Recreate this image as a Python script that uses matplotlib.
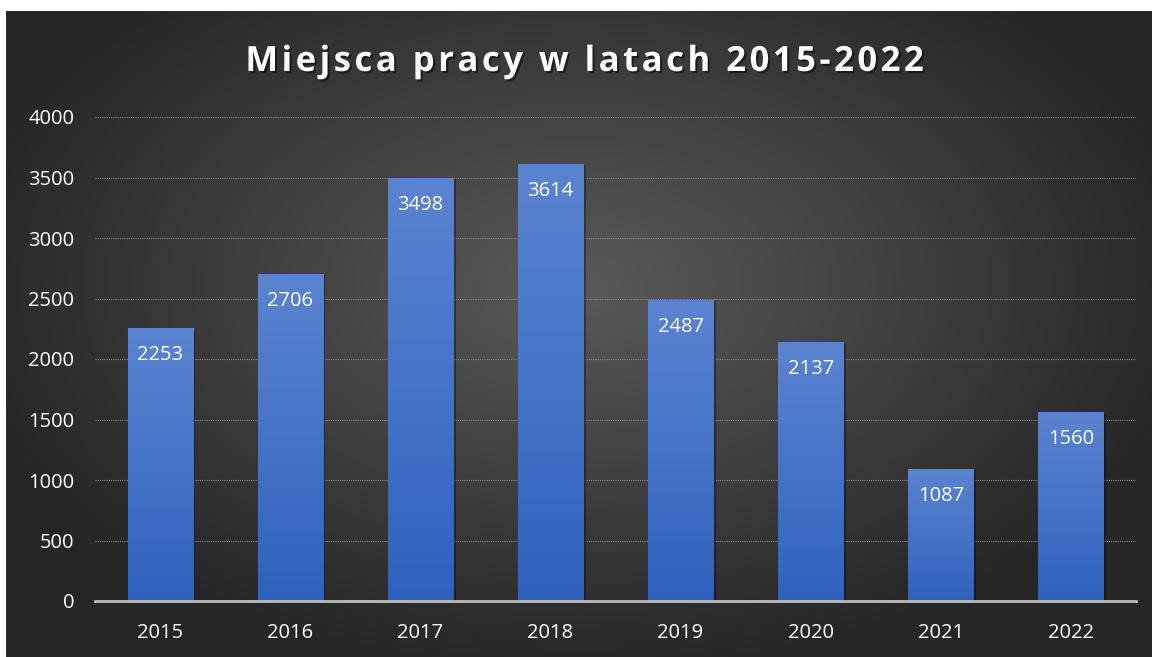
import numpy as np
import matplotlib.pyplot as plt
import matplotlib.patheffects as pe

years = ['2015', '2016', '2017', '2018', '2019', '2020', '2021', '2022']
jobs = [2253, 2706, 3498, 3614, 2487, 2137, 1087, 1560]
y_ticks = [0, 500, 1000, 1500, 2000, 2500, 3000, 3500, 4000]

plt.rcParams['font.family'] = ['Open Sans', 'DejaVu Sans']

fig = plt.figure(figsize=(11.52, 6.57), dpi=100)
fig.patch.set_facecolor('white')

# dark radial background (white strip on left/top)
bg = fig.add_axes([6 / 1152, 0, 1 - 6 / 1152, 1 - 11 / 657])
yy, xx = np.mgrid[-1:1:300j, -1:1:500j]
r = np.sqrt((xx / 1.1) ** 2 + ((yy + 0.15) / 1.2) ** 2)
r = np.clip(r, 0, 1)
light = 0.35 - 0.20 * r
bg.imshow(np.dstack([light, light, light]), aspect='auto', extent=[0, 1, 0, 1])
bg.set_axis_off()

ax = fig.add_axes([95 / 1152, 1 - 601 / 657, (1136 - 95) / 1152, (601 - 117) / 657])
ax.patch.set_alpha(0)
x = np.arange(len(years))
bars = ax.bar(x, jobs, width=0.5, color='#4472c4', zorder=3)

grad = np.linspace(0, 1, 256).reshape(-1, 1)
top = np.array([0x5b, 0x84, 0xd0]) / 255
bot = np.array([0x2f, 0x62, 0xbd]) / 255
img = top * grad[..., None] + bot * (1 - grad[..., None])
for b in bars:
    b.set_path_effects([pe.SimplePatchShadow(offset=(2, -1), shadow_rgbFace='black', alpha=0.35), pe.Normal()])
    im = ax.imshow(img, aspect='auto', origin='lower',
                   extent=[b.get_x(), b.get_x() + b.get_width(), 0, b.get_height()], zorder=4)
    im.set_clip_path(b)

for xi, v in zip(x, jobs):
    ax.text(xi, v - 140, str(v), ha='center', va='top', color='white', fontsize=14.5, zorder=5)

ax.set_xlim(-0.5, len(years) - 0.5)
ax.set_ylim(0, 4000)
ax.set_yticks(y_ticks)
ax.set_xticks(x)
ax.set_xticklabels(years)
ax.tick_params(axis='both', length=0, colors='white', labelsize=14.5)
ax.tick_params(axis='y', pad=15)
ax.tick_params(axis='x', pad=16)
ax.grid(axis='y', color='#8a8a8a', linestyle=(0, (1, 1)), linewidth=0.8, zorder=1)
for s in ['top', 'right', 'left']:
    ax.spines[s].set_visible(False)
ax.spines['bottom'].set_color('#bdbdbd')
ax.spines['bottom'].set_linewidth(2)
ax.spines['bottom'].set_zorder(6)

title = 'Miejsca pracy w latach 2015-2022'
fig.text(585 / 1152, 1 - 62 / 657, '\u200a'.join(title),
         ha='center', va='center', color='white', fontsize=25, fontweight='bold',
         path_effects=[pe.withSimplePatchShadow(offset=(1.5, -1.5), shadow_rgbFace='black', alpha=0.5)])

fig.savefig('out.png', dpi=100)
